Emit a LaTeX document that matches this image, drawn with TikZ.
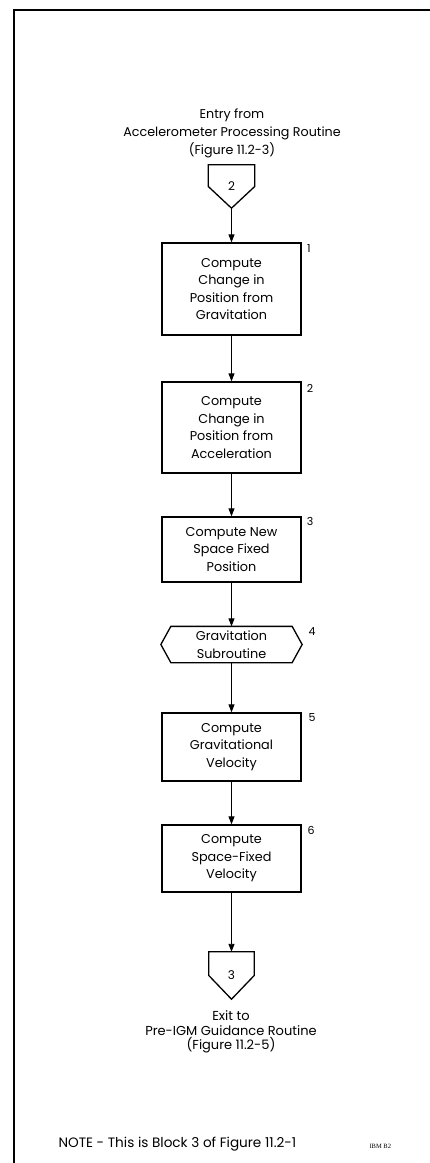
\documentclass[tikz,border=0pt]{standalone}
\usepackage{fontspec}
\setmainfont{Poppins}
\newfontfamily\stampfont{Liberation Serif}
\usetikzlibrary{arrows.meta,calc}

\begin{document}
\begin{tikzpicture}[
  x=1pt, y=-1pt,
  >={Triangle[length=8pt,width=6pt]},
  el/.style    = {line width=1.3pt},
  flow/.style  = {->, line width=0.9pt},
  box/.style   = {draw, el, minimum width=139pt, align=center, inner sep=2pt,
                  font=\fontsize{12.8}{17.5}\selectfont},
  conn/.style  = {inner sep=0pt, font=\fontsize{12}{14}\selectfont},
  num/.style   = {font=\fontsize{11}{13}\selectfont},
  txt/.style   = {align=center},
]
\useasboundingbox (0,0) rectangle (430,1163);

%% page frame
\draw[line width=1.4pt] (14,1163) -- (14,10) -- (430,10);

%% entry
\node[txt, font=\fontsize{12.7}{18}\selectfont] (entry) at (232,133)
  {Entry from\\Accelerometer Processing Routine\\(Figure 11.2-3)};
\node[conn, minimum width=46pt, minimum height=43pt] (c2) at (231.5,186.5) {2};
\draw[el] (c2.north west) -- (c2.north east) -- (c2.east) -- (c2.south)
  -- (c2.west) -- cycle;

%% blocks
\node[box, minimum height=92pt] (b1) at (231.5,289)
  {Compute\\Change in\\Position from\\Gravitation};
\node[box, minimum height=91pt] (b2) at (231.5,427.5)
  {Compute\\Change in\\Position from\\Acceleration};
\node[box, minimum height=65pt] (b3) at (231.5,549.5)
  {Compute New\\Space Fixed\\Position};
\node[box, draw=none, minimum width=120pt, minimum height=35pt] (b4) at (231.5,644.5)
  {Gravitation\\Subroutine};
\draw[el] (b4.north west) -- (b4.north east) -- ($(b4.east)+(10,0)$)
  -- (b4.south east) -- (b4.south west) -- ($(b4.west)+(-10,0)$) -- cycle;
\node[box, minimum height=68pt] (b5) at (231.5,747)
  {Compute\\Gravitational\\Velocity};
\node[box, minimum height=67pt] (b6) at (231.5,858.5)
  {Compute\\Space-Fixed\\Velocity};

\node[num] (n1) at (309,249) {1};
\node[num] (n2) at (310,388) {2};
\node[num] (n3) at (310,521) {3};
\node[num] (n4) at (312,632) {4};
\node[num] (n5) at (312,718) {5};
\node[num] (n6) at (311,830) {6};

%% exit
\node[conn, minimum width=45pt, minimum height=47pt] (c3) at (231.5,975.5) {3};
\draw[el] (c3.north west) -- (c3.north east) -- (c3.east) -- (c3.south)
  -- (c3.west) -- cycle;
\node[txt, font=\fontsize{13}{14.5}\selectfont] (exit) at (231,1032)
  {Exit to\\Pre-IGM Guidance Routine\\(Figure 11.2-5)};

%% connectors
\draw[flow] (c2.south) -- (b1.north);
\draw[flow] (b1.south) -- (b2.north);
\draw[flow] (b2.south) -- (b3.north);
\draw[flow] (b3.south) -- (b4.north);
\draw[flow] (b4.south) -- (b5.north);
\draw[flow] (b5.south) -- (b6.north);
\draw[flow] (b6.south) -- (c3.north);

%% note
\node[anchor=west, font=\fontsize{13.6}{15}\selectfont] (note) at (55,1144)
  {NOTE - This is Block 3 of Figure 11.2-1};
\node[anchor=west, font=\stampfont\fontsize{6.5}{7}\selectfont] (stamp) at (366,1146)
  {IBM B2};

\end{tikzpicture}
\end{document}
